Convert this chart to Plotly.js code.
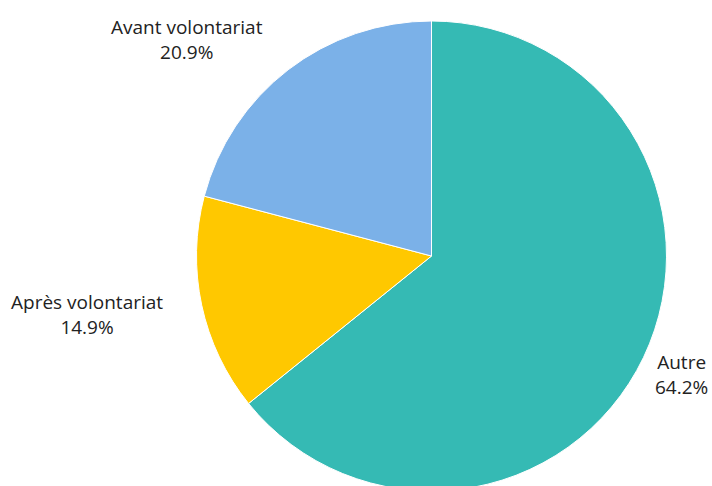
<!DOCTYPE html>
<html>
<head>
<meta charset="utf-8">
<script src="https://cdn.plot.ly/plotly-3.0.1.min.js"></script>
<style>
html,body{margin:0;padding:0;background:#fff;overflow:hidden;}
#chart{width:712px;height:491px;}
</style>
</head>
<body>
<div id="chart"></div>
<script>
const categories = ["Autre", "Après volontariat", "Avant volontariat"];
const shares = [64.2, 14.9, 20.9];
const colors = ["#35BAB4", "#FFC800", "#7BB1E8"];

// label anchor positions (pixels in the 712x491 figure)
const labelPos = [[681, 374], [86.5, 314], [186.5, 39]];

const W = 712, H = 491;
const total = shares.reduce((a, b) => a + b, 0);
const annotations = categories.map((c, i) => ({
  xref: "paper", yref: "paper",
  x: labelPos[i][0] / W, y: 1 - labelPos[i][1] / H,
  xanchor: "center", yanchor: "middle", align: "center",
  showarrow: false,
  text: c + "<br>" + (shares[i] / total * 100).toFixed(1) + "%",
  font: {family: "Open Sans, sans-serif", size: 19, color: "#222222"}
}));

Plotly.newPlot("chart", [{
  type: "pie",
  labels: categories,
  values: shares,
  sort: false,
  direction: "clockwise",
  rotation: 0,
  marker: {colors: colors, line: {color: "#ffffff", width: 1}},
  textinfo: "none",
  domain: {x: [151 / W, 1], y: [0, 1 - 21 / H]},
  hoverinfo: "label+percent",
  showlegend: false
}], {
  width: W,
  height: H,
  margin: {l: 0, r: 0, t: 0, b: 0},
  paper_bgcolor: "#ffffff",
  plot_bgcolor: "#ffffff",
  showlegend: false,
  annotations: annotations
}, {displayModeBar: false, staticPlot: true});
</script>
</body>
</html>
